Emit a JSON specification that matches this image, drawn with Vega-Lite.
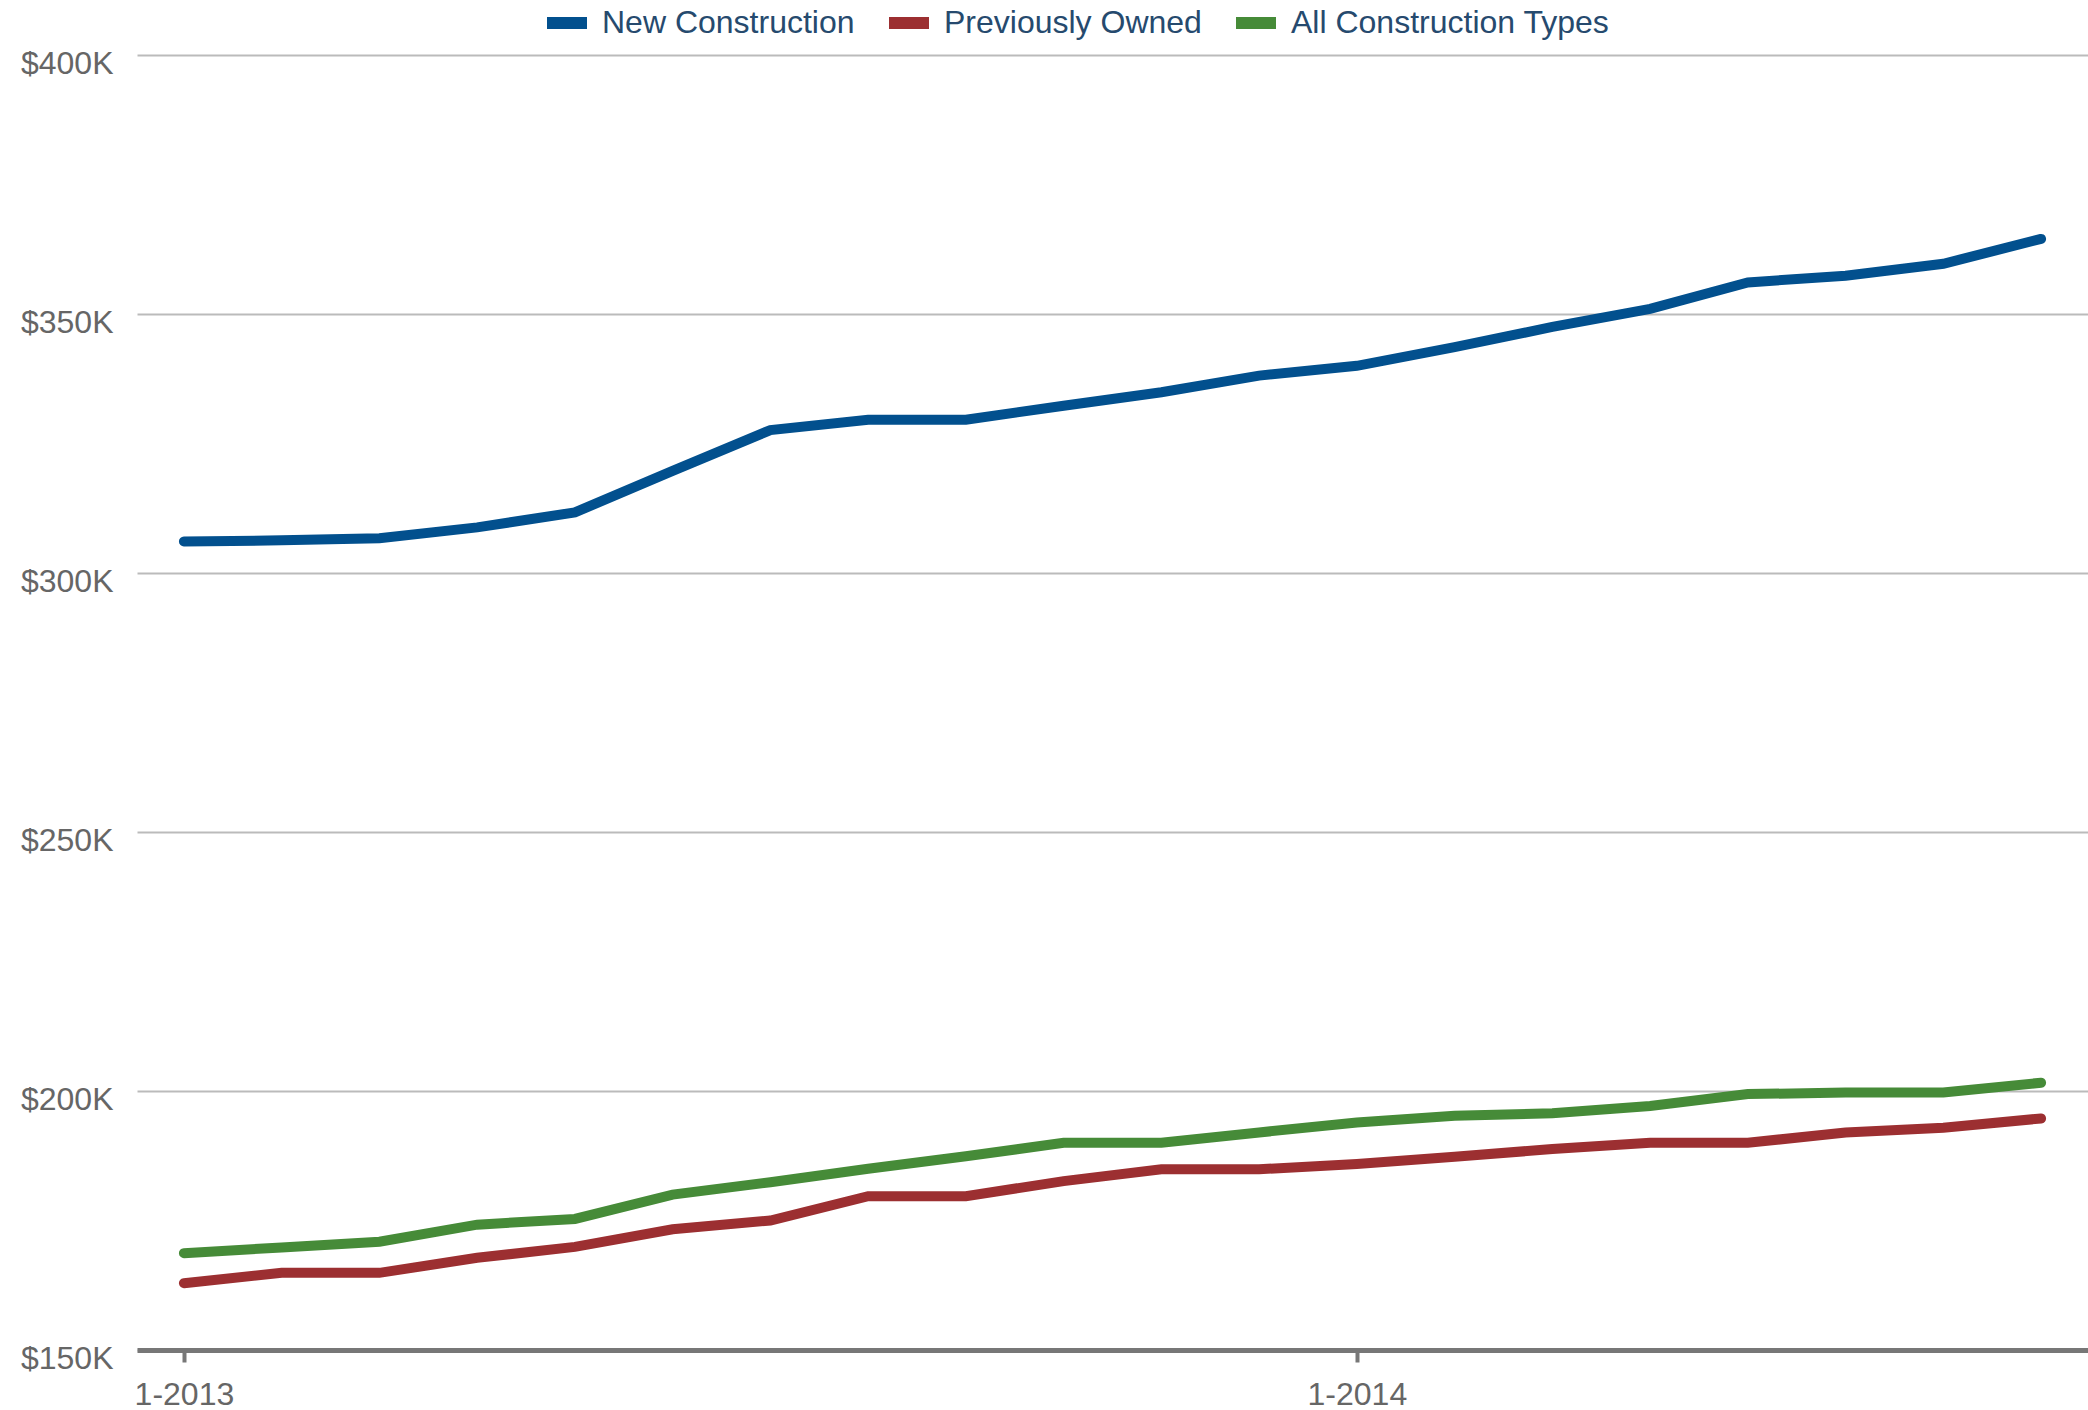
{
  "$schema": "https://vega.github.io/schema/vega-lite/v6.json",
  "width": 1951,
  "height": 1295,
  "autosize": {"type": "none"},
  "padding": {"left": 137, "top": 55, "right": 0, "bottom": 60},
  "background": "white",
  "config": {"view": {"stroke": null}, "font": "Liberation Sans"},
  "data": {"values": [
    {"month": "1-2013", "type": "New Construction", "price": 306100},
    {"month": "2-2013", "type": "New Construction", "price": 306300},
    {"month": "3-2013", "type": "New Construction", "price": 306700},
    {"month": "4-2013", "type": "New Construction", "price": 308800},
    {"month": "5-2013", "type": "New Construction", "price": 311700},
    {"month": "6-2013", "type": "New Construction", "price": 319700},
    {"month": "7-2013", "type": "New Construction", "price": 327600},
    {"month": "8-2013", "type": "New Construction", "price": 329600},
    {"month": "9-2013", "type": "New Construction", "price": 329600},
    {"month": "10-2013", "type": "New Construction", "price": 332300},
    {"month": "11-2013", "type": "New Construction", "price": 334900},
    {"month": "12-2013", "type": "New Construction", "price": 338100},
    {"month": "1-2014", "type": "New Construction", "price": 340000},
    {"month": "2-2014", "type": "New Construction", "price": 343600},
    {"month": "3-2014", "type": "New Construction", "price": 347500},
    {"month": "4-2014", "type": "New Construction", "price": 351000},
    {"month": "5-2014", "type": "New Construction", "price": 356100},
    {"month": "6-2014", "type": "New Construction", "price": 357400},
    {"month": "7-2014", "type": "New Construction", "price": 359700},
    {"month": "8-2014", "type": "New Construction", "price": 364500},
    {"month": "1-2013", "type": "Previously Owned", "price": 162900},
    {"month": "2-2013", "type": "Previously Owned", "price": 164900},
    {"month": "3-2013", "type": "Previously Owned", "price": 164900},
    {"month": "4-2013", "type": "Previously Owned", "price": 167800},
    {"month": "5-2013", "type": "Previously Owned", "price": 169900},
    {"month": "6-2013", "type": "Previously Owned", "price": 173300},
    {"month": "7-2013", "type": "Previously Owned", "price": 175000},
    {"month": "8-2013", "type": "Previously Owned", "price": 179700},
    {"month": "9-2013", "type": "Previously Owned", "price": 179700},
    {"month": "10-2013", "type": "Previously Owned", "price": 182600},
    {"month": "11-2013", "type": "Previously Owned", "price": 184900},
    {"month": "12-2013", "type": "Previously Owned", "price": 184900},
    {"month": "1-2014", "type": "Previously Owned", "price": 185900},
    {"month": "2-2014", "type": "Previously Owned", "price": 187300},
    {"month": "3-2014", "type": "Previously Owned", "price": 188800},
    {"month": "4-2014", "type": "Previously Owned", "price": 190000},
    {"month": "5-2014", "type": "Previously Owned", "price": 190000},
    {"month": "6-2014", "type": "Previously Owned", "price": 192000},
    {"month": "7-2014", "type": "Previously Owned", "price": 192900},
    {"month": "8-2014", "type": "Previously Owned", "price": 194700},
    {"month": "1-2013", "type": "All Construction Types", "price": 168700},
    {"month": "2-2013", "type": "All Construction Types", "price": 169800},
    {"month": "3-2013", "type": "All Construction Types", "price": 170900},
    {"month": "4-2013", "type": "All Construction Types", "price": 174200},
    {"month": "5-2013", "type": "All Construction Types", "price": 175300},
    {"month": "6-2013", "type": "All Construction Types", "price": 180000},
    {"month": "7-2013", "type": "All Construction Types", "price": 182400},
    {"month": "8-2013", "type": "All Construction Types", "price": 185000},
    {"month": "9-2013", "type": "All Construction Types", "price": 187400},
    {"month": "10-2013", "type": "All Construction Types", "price": 190000},
    {"month": "11-2013", "type": "All Construction Types", "price": 190000},
    {"month": "12-2013", "type": "All Construction Types", "price": 192000},
    {"month": "1-2014", "type": "All Construction Types", "price": 193900},
    {"month": "2-2014", "type": "All Construction Types", "price": 195200},
    {"month": "3-2014", "type": "All Construction Types", "price": 195700},
    {"month": "4-2014", "type": "All Construction Types", "price": 197100},
    {"month": "5-2014", "type": "All Construction Types", "price": 199400},
    {"month": "6-2014", "type": "All Construction Types", "price": 199700},
    {"month": "7-2014", "type": "All Construction Types", "price": 199700},
    {"month": "8-2014", "type": "All Construction Types", "price": 201600}
  ]},
  "mark": {"type": "line", "strokeWidth": 10, "strokeCap": "round"},
  "encoding": {
    "x": {
      "field": "month", "type": "ordinal", "sort": null,
      "scale": {"type": "point", "padding": 0.48},
      "axis": {
        "values": ["1-2013", "1-2014"], "title": null, "labelAngle": 0,
        "labelFontSize": 32, "labelColor": "#666666",
        "domainColor": "#777777", "domainWidth": 5,
        "tickColor": "#777777", "tickWidth": 4, "tickSize": 12,
        "labelPadding": 17, "grid": false
      }
    },
    "y": {
      "field": "price", "type": "quantitative",
      "scale": {"domain": [150000, 400000], "nice": false, "zero": false},
      "axis": {
        "values": [150000, 200000, 250000, 300000, 350000, 400000],
        "title": null,
        "labelExpr": "'$' + datum.value / 1000 + 'K'",
        "domain": false, "ticks": false, "grid": true,
        "gridColor": "#bbbbbb", "gridWidth": 2,
        "labelFontSize": 32, "labelColor": "#666666",
        "labelPadding": 24, "labelOffset": 8
      }
    },
    "color": {
      "field": "type", "type": "nominal",
      "scale": {
        "domain": ["New Construction", "Previously Owned", "All Construction Types"],
        "range": ["#02508e", "#9c2f31", "#468b38"]
      },
      "legend": {
        "orient": "none", "legendX": 404, "legendY": -58,
        "direction": "horizontal", "title": null,
        "symbolType": "stroke", "symbolSize": 1600, "symbolStrokeWidth": 12,
        "labelFontSize": 32, "labelColor": "#264a6e", "labelLimit": 0,
        "labelOffset": 9, "columnPadding": 10, "padding": 0
      }
    }
  }
}
